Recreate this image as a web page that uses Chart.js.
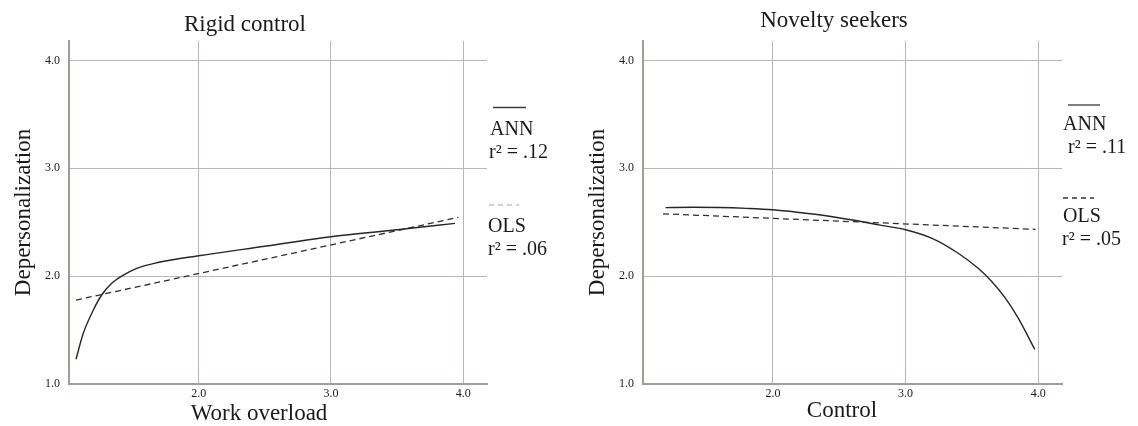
<!DOCTYPE html>
<html>
<head>
<meta charset="utf-8">
<title>Depersonalization: ANN vs OLS</title>
<script src="https://cdn.jsdelivr.net/npm/chart.js@4.4.1/dist/chart.umd.min.js"></script>
<style>
  html, body { margin: 0; padding: 0; background: #fff; }
  #wrap { position: relative; width: 1138px; height: 426px; overflow: hidden; }
  canvas { position: absolute; top: 0; }
  #rigid { left: 0; }
  #novelty { left: 574px; }
</style>
</head>
<body>
<div id="wrap">
  <canvas id="rigid" width="574" height="426"></canvas>
  <canvas id="novelty" width="564" height="426"></canvas>
</div>
<script>
// Rigid control: work overload -> depersonalization
const rigidAnnX = [1.073, 1.128, 1.204, 1.267, 1.343, 1.418, 1.532, 1.683, 2.0, 2.5, 3.0, 3.5, 3.938];
const rigidAnnY = [1.23, 1.47, 1.686, 1.825, 1.933, 2.0, 2.072, 2.124, 2.189, 2.277, 2.365, 2.43, 2.489];
const rigidOlsX = [1.073, 3.963];
const rigidOlsY = [1.778, 2.545];

// Novelty seekers: control -> depersonalization
const noveltyAnnX = [1.19, 1.4, 1.6, 1.8, 2.0, 2.2, 2.4, 2.6, 2.8, 3.0, 3.2, 3.4, 3.55, 3.65, 3.75, 3.85, 3.975];
const noveltyAnnY = [2.635, 2.638, 2.636, 2.628, 2.615, 2.59, 2.56, 2.52, 2.475, 2.43, 2.35, 2.21, 2.07, 1.95, 1.80, 1.61, 1.32];
const noveltyOlsX = [1.171, 3.98];
const noveltyOlsY = [2.578, 2.434];

const modelNames = ["ANN", "OLS"];
const rigidFits = ["r\u00b2 = .12", "r\u00b2 = .06"];
const noveltyFits = [" r\u00b2 = .11", "r\u00b2 = .05"];

const xTicks = [2, 3, 4];
const yTicks = [1, 2, 3, 4];
const xRange = [1.02, 4.18];
const yRange = [1.0, 4.18];

const serif = "'Liberation Serif', 'Times New Roman', serif";
const gridColor = "#bdb5b5";
const axisColor = "#a39a9a";
const inkColor = "#1a1a1a";

// titles, x-axis caption and the model key on the right of each panel
const panelText = {
    id: "panelText",
    afterDraw(chart, args, opts) {
        const ctx = chart.ctx;
        ctx.save();
        ctx.fillStyle = inkColor;
        ctx.textBaseline = "alphabetic";
        ctx.textAlign = "center";
        ctx.font = "23px " + serif;
        ctx.fillText(opts.title, opts.titleX, opts.titleY);
        ctx.fillText(opts.xLabel, opts.xLabelX, opts.xLabelY);

        ctx.textAlign = "left";
        ctx.font = "20px " + serif;
        opts.keys.forEach((key) => {
            ctx.beginPath();
            ctx.strokeStyle = key.color;
            ctx.lineWidth = 1.3;
            ctx.setLineDash(key.dash);
            ctx.moveTo(key.lineX[0], key.lineY);
            ctx.lineTo(key.lineX[1], key.lineY);
            ctx.stroke();
            ctx.setLineDash([]);
            ctx.fillText(key.name, key.nameX, key.nameY);
            ctx.fillText(key.fit, key.fitX, key.nameY + 23);
        });
        ctx.restore();
    }
};

const toPoints = (xs, ys) => xs.map((x, i) => ({ x: x, y: ys[i] }));

const buildPanel = (canvasId, annX, annY, olsX, olsY, padRight, text) => {
    return new Chart(document.getElementById(canvasId), {
        type: "scatter",
        data: {
            datasets: [
                {
                    label: modelNames[0],
                    data: toPoints(annX, annY),
                    showLine: true,
                    borderColor: "#262626",
                    borderWidth: 1.4,
                    pointRadius: 0,
                    cubicInterpolationMode: "monotone"
                },
                {
                    label: modelNames[1],
                    data: toPoints(olsX, olsY),
                    showLine: true,
                    borderColor: "#2e2e2e",
                    borderWidth: 1.3,
                    borderDash: [6, 4],
                    pointRadius: 0
                }
            ]
        },
        options: {
            responsive: false,
            animation: false,
            layout: { padding: { top: 41, right: padRight, bottom: 0, left: 0 } },
            plugins: {
                legend: { display: false },
                tooltip: { enabled: false },
                panelText: text
            },
            scales: {
                x: {
                    type: "linear",
                    min: xRange[0],
                    max: xRange[1],
                    afterBuildTicks: (scale) => { scale.ticks = xTicks.map((v) => ({ value: v })); },
                    afterFit: (scale) => { scale.height = 42; },
                    grid: { color: gridColor, lineWidth: 1, drawTicks: false },
                    border: { color: axisColor, width: 2 },
                    ticks: {
                        padding: 3,
                        color: inkColor,
                        font: { family: serif, size: 12 },
                        callback: (v) => v.toFixed(1)
                    }
                },
                y: {
                    type: "linear",
                    min: yRange[0],
                    max: yRange[1],
                    afterBuildTicks: (scale) => { scale.ticks = yTicks.map((v) => ({ value: v })); },
                    afterFit: (scale) => { scale.width = 69; },
                    grid: { color: gridColor, lineWidth: 1, drawTicks: false },
                    border: { color: axisColor, width: 2 },
                    ticks: {
                        padding: 9,
                        color: inkColor,
                        font: { family: serif, size: 12 },
                        callback: (v) => v.toFixed(1)
                    },
                    title: {
                        display: true,
                        text: "Depersonalization",
                        color: inkColor,
                        font: { family: serif, size: 23 },
                        padding: { top: 10, bottom: 0 }
                    }
                }
            }
        },
        plugins: [panelText]
    });
};

buildPanel("rigid", rigidAnnX, rigidAnnY, rigidOlsX, rigidOlsY, 87, {
    title: "Rigid control",
    titleX: 245, titleY: 31,
    xLabel: "Work overload",
    xLabelX: 259, xLabelY: 420,
    keys: [
        { name: modelNames[0], fit: rigidFits[0], color: "#3a3a3a", dash: [], lineX: [493, 526], lineY: 107.5, nameX: 490, fitX: 489, nameY: 135 },
        { name: modelNames[1], fit: rigidFits[1], color: "#c4c4c4", dash: [5, 4], lineX: [489, 519], lineY: 205, nameX: 488, fitX: 488, nameY: 232 }
    ]
});

buildPanel("novelty", noveltyAnnX, noveltyAnnY, noveltyOlsX, noveltyOlsY, 76, {
    title: "Novelty seekers",
    titleX: 260, titleY: 27,
    xLabel: "Control",
    xLabelX: 268, xLabelY: 417,
    keys: [
        { name: modelNames[0], fit: noveltyFits[0], color: "#3a3a3a", dash: [], lineX: [494, 526], lineY: 105, nameX: 489, fitX: 489, nameY: 130 },
        { name: modelNames[1], fit: noveltyFits[1], color: "#333333", dash: [5, 4], lineX: [489, 520], lineY: 198, nameX: 489, fitX: 488, nameY: 222 }
    ]
});
</script>
</body>
</html>
